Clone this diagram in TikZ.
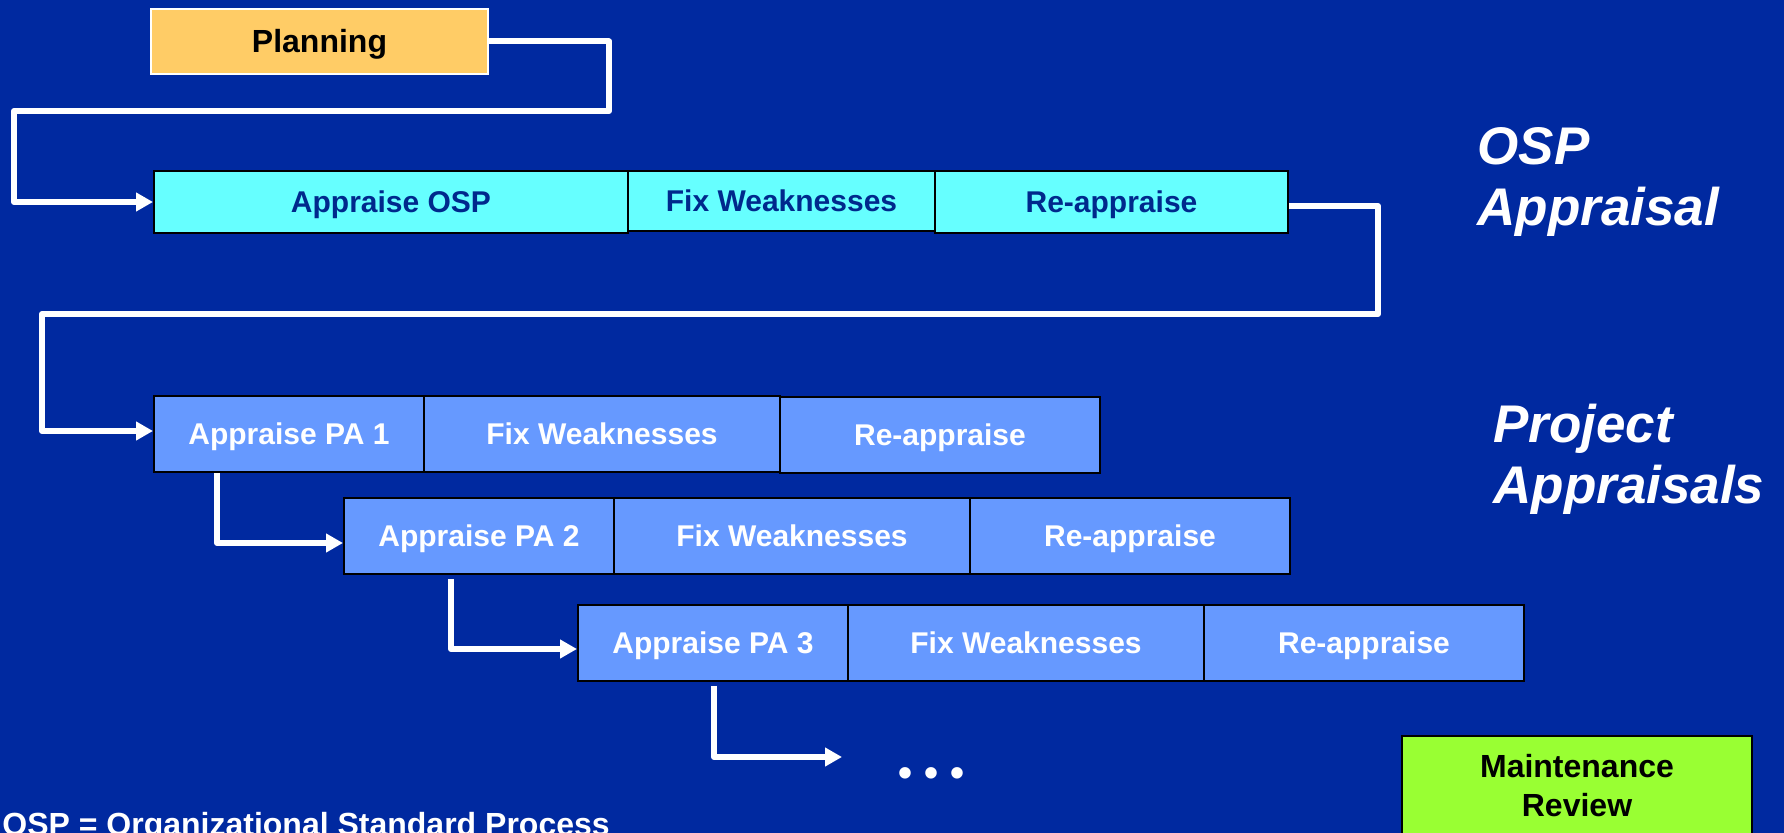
\documentclass[tikz,border=0pt]{standalone}
\usepackage{fontspec}
\setmainfont{Liberation Sans}
\usepackage{xcolor}
\usepackage{tikz}
\usetikzlibrary{arrows.meta}
\definecolor{slideblue}{RGB}{0,41,160}
\definecolor{ospcyan}{RGB}{102,255,255}
\definecolor{ospnavy}{RGB}{0,41,140}
\definecolor{pablue}{RGB}{102,153,255}
\definecolor{planorange}{RGB}{255,204,102}
\definecolor{maintgreen}{RGB}{153,255,51}
\tikzset{
  box/.style={rectangle,draw=black,line width=1pt,inner sep=0pt,
    text height=14pt,text depth=3.26pt,
    font=\fontsize{15}{18}\selectfont\bfseries},
  flow/.style={draw=white,line width=3pt,line join=round,
    -{Triangle[length=8.5pt,width=9pt]}},
  heading/.style={text=white,inner sep=0pt,align=left,
    font=\fontsize{26.5}{30.5}\selectfont\bfseries\itshape},
}
\newcommand{\plannode}{\node[box,draw=white,fill=planorange,minimum width=168.5pt,minimum height=32.5pt,text height=14.7pt,text depth=3.2pt,font=\fontsize{16}{19}\selectfont\bfseries]}
\newcommand{\ospnode}{\node[box,fill=ospcyan,text=ospnavy,minimum height=31pt]}
\newcommand{\panode}{\node[box,fill=pablue,text=white,minimum height=38pt]}
\newcommand{\mainnode}{\node[box,text height=,text depth=,fill=maintgreen,align=center,minimum width=175pt,minimum height=50pt,font=\fontsize{16}{19.5}\selectfont\bfseries]}

\begin{document}
\begin{tikzpicture}[x=0.5pt,y=-0.5pt]
          \fill[slideblue] (0,0) rectangle (1784,833);
          \useasboundingbox (0,0) rectangle (1784,833);
          \plannode (plan) at (319.5,41.5) {Planning}; %
          % OSP appraisal
          \ospnode[minimum width=237pt] (osp1) at (391,202) {Appraise OSP}; %
          \ospnode[minimum width=153.5pt,minimum height=30pt] (osp2) at (781.5,201) {Fix Weaknesses}; %
          \ospnode[minimum width=176.5pt] (osp3) at (1111.5,202) {Re-appraise}; %
          % project appraisals
          \panode[minimum width=135pt] (pa1) at (289,434) {Appraise PA 1}; %
          \panode[minimum width=178pt] (fix1) at (602,434) {Fix Weaknesses};
          \panode[minimum width=160pt] (re1) at (940,435) {Re-appraise};
          \panode[minimum width=135pt] (pa2) at (479,536) {Appraise PA 2}; %
          \panode[minimum width=178pt] (fix2) at (792,536) {Fix Weaknesses};
          \panode[minimum width=160pt] (re2) at (1130,536) {Re-appraise};
          \panode[minimum width=135pt] (pa3) at (713,643) {Appraise PA 3}; %
          \panode[minimum width=178pt] (fix3) at (1026,643) {Fix Weaknesses};
          \panode[minimum width=160pt] (re3) at (1364,643) {Re-appraise};
          \node[text=white,font=\fontsize{20}{20}\selectfont\bfseries] (more) at (931,777) {•\hspace{6pt}•\hspace{6pt}•};
          \coordinate (moreIn) at (842,757);
          \mainnode (maint) at (1577,786) {Maintenance\\Review};
          \node[heading,anchor=base west] (osptitle) at (1477,226) {OSP\\Appraisal};
          \node[heading,anchor=base west] (patitle) at (1493,504) {Project\\Appraisals};
          \node[anchor=base west,inner sep=0pt,text=white,font=\fontsize{16}{19}\selectfont\bfseries] (note) at (2,835) {OSP = Organizational Standard Process};
          \draw[flow] (plan.east) -- ++(120,0) |- (14,111) |- (osp1.west);
          \draw[flow] ([yshift=-2pt]osp3.east) -- ++(89,0) |- (42,314) |- ([yshift=1.5pt]pa1.west);
          \draw[flow] ([xshift=32pt]pa1.south west) |- ([yshift=-3.5pt]pa2.west);
          \draw[flow] ([xshift=54pt,yshift=-2pt]pa2.south west) |- ([yshift=-3pt]pa3.west);
          \draw[flow] ([xshift=68.5pt,yshift=-2pt]pa3.south west) |- (moreIn);
        \end{tikzpicture}
\end{document}
